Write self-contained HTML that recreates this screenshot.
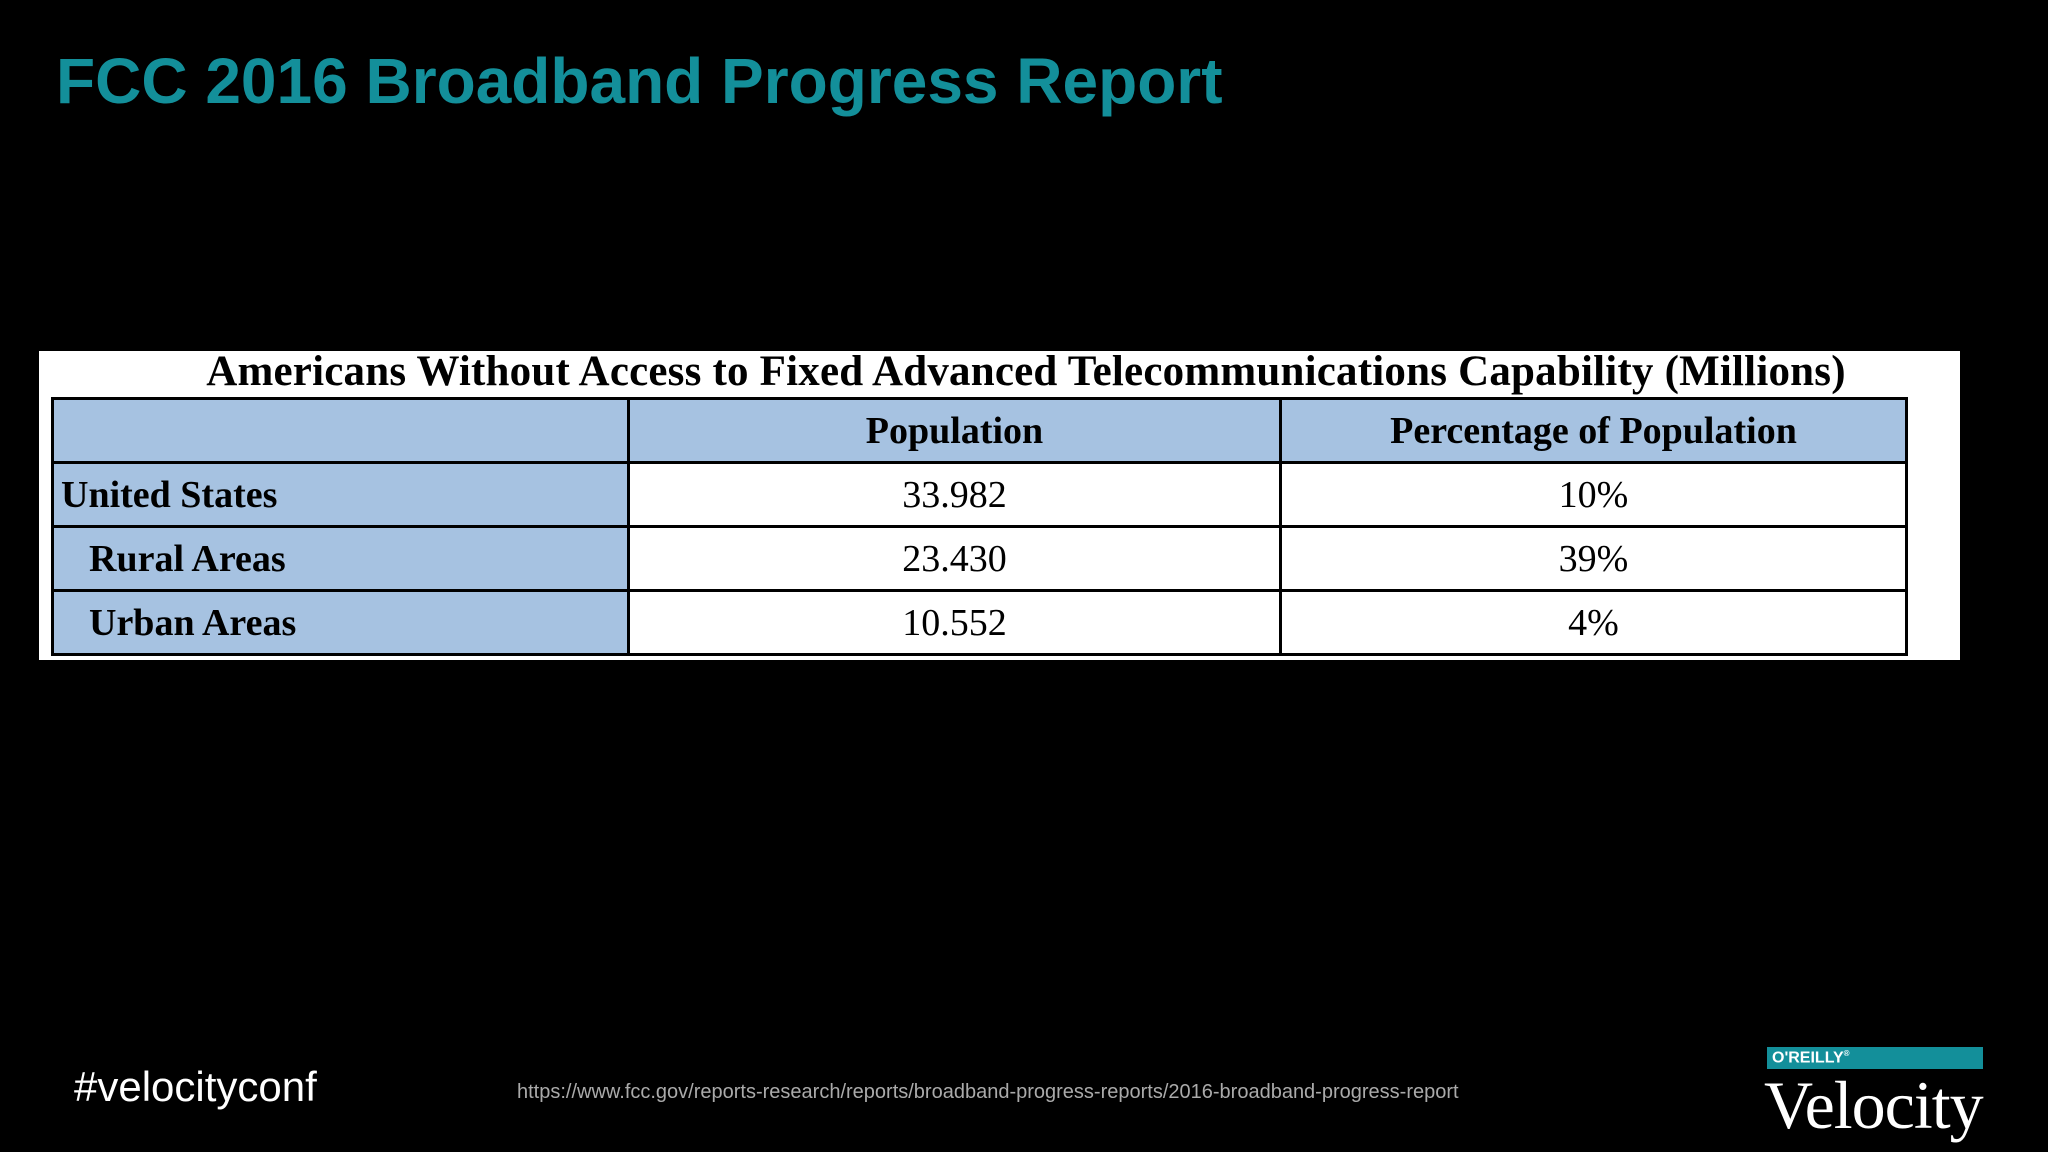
<!DOCTYPE html>
<html><head><meta charset="utf-8"><style>
body{margin:0;width:2048px;height:1152px;background:#000;position:relative;overflow:hidden;font-family:"Liberation Sans",sans-serif}
.abs{position:absolute}
#title{left:56px;top:44px;font-size:64px;font-weight:bold;color:#138f9a;white-space:nowrap}
#box{left:39px;top:351px;width:1921px;height:309px;background:#fff}
#cap{left:39px;top:347px;width:1974px;text-align:center;font-family:"Liberation Serif",serif;font-weight:bold;font-size:43px;letter-spacing:0.2px;color:#000;white-space:nowrap}
table{position:absolute;left:51px;top:397px;width:1857px;border-collapse:collapse;font-family:"Liberation Serif",serif;font-size:38px;color:#000}
td,th{border:3px solid #000;height:61px;padding:0;box-sizing:border-box}
tr{height:64px}
th{background:#a6c2e1;font-weight:bold}
td.c{text-align:center;background:#fff}
td.h{background:#a6c2e1;font-weight:bold;padding-left:7px}
td.i{padding-left:35px}
</style></head><body>
<div id="title" class="abs">FCC 2016 Broadband Progress Report</div>
<div id="box" class="abs"></div>
<div id="cap" class="abs">Americans Without Access to Fixed Advanced Telecommunications Capability (Millions)</div>
<table>
<colgroup><col style="width:577px"><col style="width:653px"><col style="width:627px"></colgroup>
<tr><th></th><th>Population</th><th>Percentage of Population</th></tr>
<tr><td class="h">United States</td><td class="c">33.982</td><td class="c">10%</td></tr>
<tr><td class="h i">Rural Areas</td><td class="c">23.430</td><td class="c">39%</td></tr>
<tr><td class="h i">Urban Areas</td><td class="c">10.552</td><td class="c">4%</td></tr>
</table>
<div class="abs" style="left:74px;top:1063px;font-size:42px;color:#fff">#velocityconf</div>
<div class="abs" style="left:517px;top:1081px;font-size:20px;color:#aaa;white-space:nowrap">https://www.fcc.gov/reports-research/reports/broadband-progress-reports/2016-broadband-progress-report</div>
<div class="abs" style="left:1767px;top:1047px;width:216px;height:22px;background:#138f9a"><span style="position:absolute;left:5px;top:2px;font-size:16px;font-weight:bold;color:#fff">O'REILLY<sup style="font-size:8px">®</sup></span></div>
<div class="abs" style="left:1764px;top:1066px;font-family:'Liberation Serif',serif;font-size:68px;color:#fff;letter-spacing:-1px">Velocity</div>
</body></html>
